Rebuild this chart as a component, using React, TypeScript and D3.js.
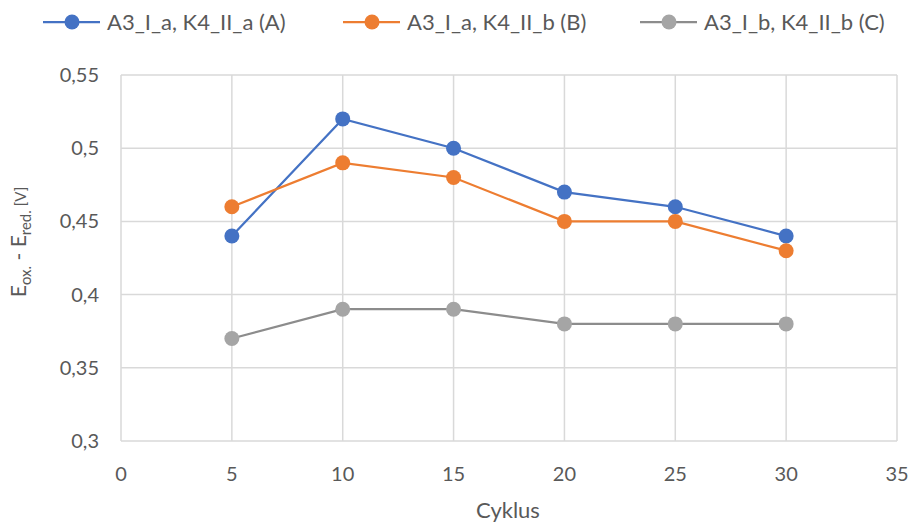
import React from "react";
import * as d3 from "d3";

const cycles = [5, 10, 15, 20, 25, 30];
const seriesA = [0.44, 0.52, 0.5, 0.47, 0.46, 0.44];
const seriesB = [0.46, 0.49, 0.48, 0.45, 0.45, 0.43];
const seriesC = [0.37, 0.39, 0.39, 0.38, 0.38, 0.38];
const seriesNames = ["A3_I_a, K4_II_a (A)", "A3_I_a, K4_II_b (B)", "A3_I_b, K4_II_b (C)"];
const xTicks = [0, 5, 10, 15, 20, 25, 30, 35];
const yTicks = [0.3, 0.35, 0.4, 0.45, 0.5, 0.55];

const W = 911;
const H = 524;
const FONT = "Lato, 'Open Sans', sans-serif";
const TEXT = "#595959";

export default function App() {
  const x = d3.scaleLinear().domain([0, 35]).range([121, 897]);
  const y = d3.scaleLinear().domain([0.3, 0.55]).range([441, 75]);
  const fmt = (v: number) => String(+v.toFixed(2)).replace(".", ",");
  const line = d3
    .line<number>()
    .x((_, i) => x(cycles[i]))
    .y((d) => y(d));

  const series = [
    { name: seriesNames[0], values: seriesA, color: "#4472C4", lineColor: "#4472C4", lx: 43 },
    { name: seriesNames[1], values: seriesB, color: "#ED7D31", lineColor: "#ED7D31", lx: 343 },
    { name: seriesNames[2], values: seriesC, color: "#A5A5A5", lineColor: "#8C8C8C", lx: 640 },
  ];

  return (
    <svg width={W} height={H} style={{ position: "absolute", left: 0, top: 0, background: "#fff" }}>
      {/* grid */}
      {xTicks.map((t) => (
        <line key={"gx" + t} x1={x(t)} x2={x(t)} y1={y(0.55)} y2={y(0.3)} stroke="#D9D9D9" strokeWidth={1.5} />
      ))}
      {yTicks.map((t) => (
        <line key={"gy" + t} x1={x(0)} x2={x(35)} y1={y(t)} y2={y(t)} stroke="#D9D9D9" strokeWidth={1.5} />
      ))}
      {/* tick labels */}
      {yTicks.map((t) => (
        <text key={"ty" + t} x={99} y={y(t)} dy="0.35em" textAnchor="end" fontFamily={FONT} fontSize={20} fill={TEXT}>
          {fmt(t)}
        </text>
      ))}
      {xTicks.map((t) => (
        <text key={"tx" + t} x={x(t)} y={474} dy="0.35em" textAnchor="middle" fontFamily={FONT} fontSize={20} fill={TEXT}>
          {t}
        </text>
      ))}
      {/* axis titles */}
      <text x={508} y={510} dy="0.35em" textAnchor="middle" fontFamily={FONT} fontSize={22} fill={TEXT}>
        Cyklus
      </text>
      <text
        transform={`translate(19,${242}) rotate(-90)`}
        textAnchor="middle"
        dy="0.35em"
        fontFamily={FONT}
        fontSize={21}
        fill={TEXT}
      >
        E<tspan fontSize={15} dy="5">ox.</tspan>
        <tspan dy="-5"> - E</tspan>
        <tspan fontSize={15} dy="5">red.</tspan>
        <tspan fontSize={15} dy="-5"> [V]</tspan>
      </text>
      {/* series */}
      {series.map((s) => (
        <g key={s.name}>
          <path d={line(s.values) ?? ""} fill="none" stroke={s.lineColor} strokeWidth={2.25} />
          {s.values.map((v, i) => (
            <circle key={i} cx={x(cycles[i])} cy={y(v)} r={7.5} fill={s.color} />
          ))}
        </g>
      ))}
      {/* legend */}
      {series.map((s) => (
        <g key={"lg" + s.name}>
          <line x1={s.lx} x2={s.lx + 57} y1={22} y2={22} stroke={s.lineColor} strokeWidth={2.25} />
          <circle cx={s.lx + 29} cy={22} r={7.5} fill={s.color} />
          <text x={s.lx + 64} y={22} dy="0.35em" fontFamily={FONT} fontSize={22} fill={TEXT}>
            {s.name}
          </text>
        </g>
      ))}
    </svg>
  );
}
